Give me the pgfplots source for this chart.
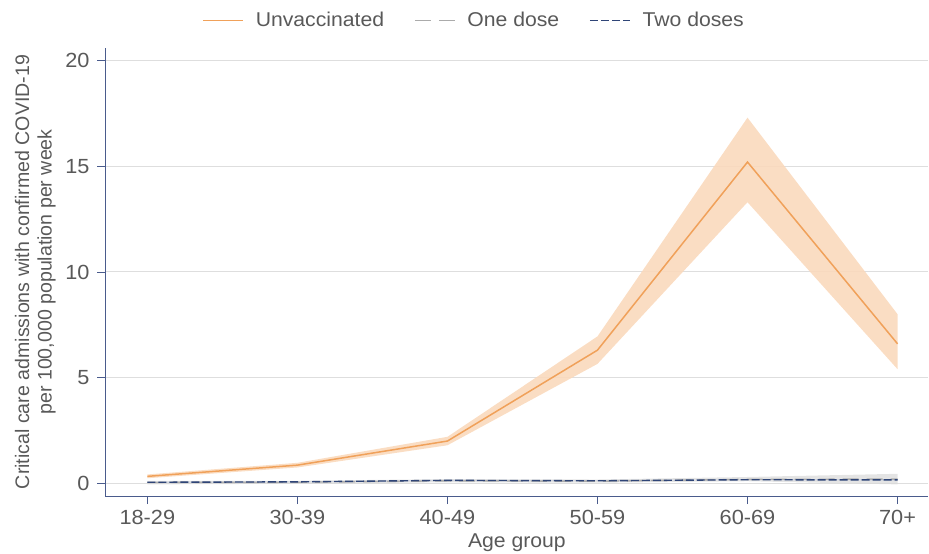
\documentclass[border=0pt]{standalone}
\usepackage{fontspec}
\setmainfont{Liberation Sans}[FakeStretch=1.06]
\newfontfamily\ylabfont{Liberation Sans}
\usepackage{pgfplots}
\pgfplotsset{compat=1.18}
\definecolor{unvax}{HTML}{F0A15A}
\definecolor{unvaxband}{HTML}{FAD9BC}
\definecolor{onedose}{HTML}{ABABAB}
\definecolor{onedoseband}{HTML}{D9D9D9}
\definecolor{twodose}{HTML}{2F4577}
\definecolor{twodoseband}{HTML}{B9C2D6}
\definecolor{axiscol}{HTML}{4A5B8C}
\definecolor{txt}{HTML}{595959}
\definecolor{gridc}{HTML}{DEDEDE}
\begin{document}
\fontsize{20}{23}\selectfont
\begin{tikzpicture}
\begin{axis}[
  scale only axis, width=824pt, height=449pt,
  xmin=-0.28, xmax=5.206, ymin=-0.61, ymax=20.61,
  axis lines*=left,
  axis line style={axiscol, line width=1.1pt},
  xtick={0,1,2,3,4,5},
  xticklabels={18-29,30-39,40-49,50-59,60-69,70+},
  ytick={0,5,10,15,20},
  ymajorgrids, grid style={gridc, line width=1pt},
  tick style={axiscol, line width=0.9pt},
  tick align=outside, major tick length=8pt,
  ticklabel style={text=txt, font=\fontsize{20.5}{23}\selectfont},
  yticklabel style={xshift=-1pt},
  xticklabel style={yshift=1pt},
  /pgf/number format/assume math mode=true,
  xlabel={Age group},
  ylabel={Critical care admissions with confirmed COVID-19\\per 100,000 population per week},
  label style={text=txt, font=\fontsize{20}{23}\selectfont},
  ylabel style={align=center, font=\ylabfont\fontsize{19.6}{22.5}\selectfont,
    at={(axis description cs:-0.0850,0.5)}, anchor=center, inner ysep=15pt},
  xlabel style={inner ysep=2pt, yshift=0pt},
  legend style={draw=none, fill=none, at={(axis description cs:0.448,1)}, anchor=center,
    yshift=27pt, inner ysep=10pt, legend columns=3, font=\fontsize{20}{23}\selectfont, text=txt,
    /tikz/every odd column/.append style={column sep=10pt},
    /tikz/every even column/.append style={column sep=28pt}},
  legend image code/.code={\draw[#1] (0pt,0pt) -- (40pt,0pt);},
  clip=false,
]
% bands
\addplot[fill=unvaxband, draw=none, fill opacity=0.9, forget plot] coordinates {
  (0,0.42) (1,0.97) (2,2.2) (3,6.95) (4,17.3) (5,8.0)
  (5,5.4) (4,13.3) (3,5.65) (2,1.8) (1,0.75) (0,0.24)} -- cycle;
\addplot[fill=onedoseband, draw=none, fill opacity=0.7, forget plot] coordinates {
  (0,0.12) (1,0.12) (2,0.2) (3,0.18) (4,0.3) (5,0.45)
  (5,-0.05) (4,0.1) (3,0.03) (2,0.05) (1,-0.02) (0,-0.05)} -- cycle;
\addplot[fill=twodoseband, draw=none, fill opacity=0.5, forget plot] coordinates {
  (0,0.08) (1,0.09) (2,0.17) (3,0.14) (4,0.2) (5,0.2)
  (5,0.13) (4,0.15) (3,0.11) (2,0.11) (1,0.05) (0,0.02)} -- cycle;
% lines
\addplot[unvax, line width=1.5pt] coordinates {
  (0,0.33) (1,0.86) (2,2.0) (3,6.3) (4,15.2) (5,6.6)};
\addlegendentry{Unvaccinated}
\addplot[onedose, line width=1.4pt, dash pattern=on 16pt off 8pt] coordinates {
  (0,0.04) (1,0.05) (2,0.12) (3,0.1) (4,0.19) (5,0.2)};
\addlegendentry{One dose}
\addplot[twodose, line width=1.4pt, dash pattern=on 8pt off 3pt] coordinates {
  (0,0.05) (1,0.07) (2,0.14) (3,0.12) (4,0.17) (5,0.16)};
\addlegendentry{Two doses}
\end{axis}
\end{tikzpicture}
\end{document}
